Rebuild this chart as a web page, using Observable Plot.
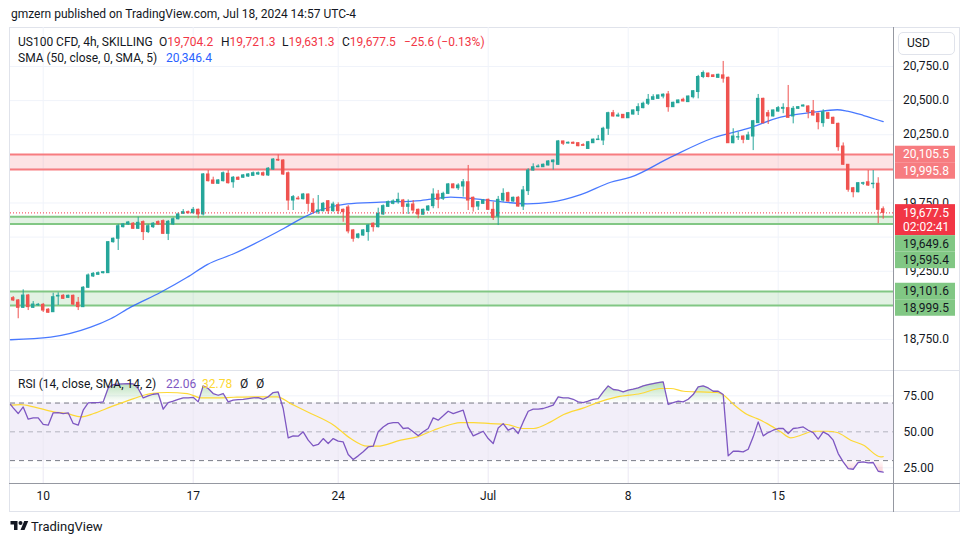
<!DOCTYPE html>
<html><head><meta charset="utf-8">
<script src="https://cdn.jsdelivr.net/npm/d3@7"></script>
<script src="https://cdn.jsdelivr.net/npm/@observablehq/plot@0.6"></script>
<style>
body{margin:0;background:#fff;font-family:Roboto,"Noto Sans",sans-serif;color:#131722;}
#wrap{position:relative;width:970px;height:545px;overflow:hidden;background:#fff;}
.abs{position:absolute;white-space:nowrap;font-size:12px;line-height:16px;}
.ln{position:absolute;}
#wrap svg{position:absolute;left:0;top:0;}
</style></head><body><div id="wrap"></div>
<script>
// ---------------- DATA ----------------
const opens = [19053,19036,18982,19072,18982,19001,19004,18968,18950,19065,19070,19055,19070,19019,18987,19129,19212,19224,19236,19236,19463,19488,19573,19593,19598,19561,19610,19537,19573,19610,19617,19524,19593,19631,19671,19683,19675,19700,19666,19959,19915,19891,19910,19964,19902,19935,19935,19944,19949,19959,19968,19952,19995,20066,20061,19968,19768,19782,19778,19812,19744,19683,19690,19763,19690,19734,19700,19717,19549,19495,19512,19537,19598,19573,19666,19722,19744,19756,19768,19722,19739,19700,19664,19695,19727,19812,19781,19817,19886,19858,19871,19902,19788,19724,19744,19773,19700,19651,19768,19822,19761,19788,19724,19837,19988,20012,20012,20025,20049,20030,20201,20186,20191,20188,20174,20146,20188,20211,20208,20294,20408,20384,20396,20371,20398,20423,20445,20477,20506,20513,20530,20545,20452,20481,20506,20489,20525,20563,20673,20698,20685,20667,20685,20667,20188,20230,20237,20213,20237,20335,20513,20408,20384,20420,20440,20445,20384,20440,20457,20457,20423,20404,20335,20408,20374,20330,20164,20030,19858,19829,19891,19902,19888,19891,19704.2];
const highs = [19065,19043,19114,19080,19028,19014,19014,18977,19089,19092,19080,19076,19076,19058,19138,19230,19241,19245,19248,19468,19494,19593,19600,19615,19607,19646,19619,19593,19607,19619,19626,19622,19640,19677,19702,19691,19717,19706,19966,19988,19939,19922,19977,19988,19944,19941,19959,19966,19977,19977,19977,20010,20076,20103,20068,19977,19805,19798,19820,19816,19781,19805,19754,19768,19756,19751,19706,19731,19556,19527,19556,19593,19604,19712,19736,19765,19773,19822,19776,19773,19768,19706,19706,19731,19854,19842,19829,19893,19891,19891,19922,20025,19794,19761,19776,19779,19756,19798,19854,19829,19794,19798,19871,20001,20037,20030,20036,20061,20065,20208,20203,20197,20197,20193,20184,20201,20219,20245,20305,20415,20428,20408,20398,20413,20431,20477,20489,20545,20543,20541,20550,20567,20489,20505,20518,20534,20574,20685,20717,20702,20688,20694,20787,20673,20294,20269,20241,20269,20355,20545,20518,20428,20431,20457,20477,20611,20457,20457,20469,20462,20501,20408,20433,20413,20379,20335,20190,20032,19864,19900,19902,19988,19988,19935,19721.3];
const lows = [19028,18902,18977,18962,18977,18992,18948,18941,18948,18999,19043,19050,18999,18962,18984,19124,19204,19219,19230,19234,19456,19402,19567,19585,19556,19556,19475,19526,19563,19585,19519,19475,19585,19626,19666,19669,19669,19634,19655,19904,19886,19886,19904,19889,19858,19915,19930,19937,19944,19952,19944,19944,19988,20054,19952,19695,19695,19772,19772,19683,19671,19666,19684,19666,19683,19666,19609,19524,19463,19486,19505,19470,19537,19567,19659,19717,19737,19741,19666,19666,19671,19634,19660,19688,19708,19708,19768,19812,19854,19842,19793,19695,19683,19695,19739,19695,19622,19585,19756,19756,19754,19719,19695,19805,19983,20009,20010,20021,19991,20025,20171,20182,20179,20162,20164,20142,20186,20208,20171,20245,20379,20379,20369,20369,20395,20391,20440,20464,20501,20510,20513,20415,20450,20479,20491,20486,20513,20513,20661,20667,20669,20662,20628,20186,20184,20208,20184,20208,20134,20332,20330,20325,20380,20415,20404,20371,20330,20435,20453,20367,20387,20286,20305,20362,20325,20129,20025,19829,19788,19824,19878,19871,19854,19598,19631.3];
const closes = [19036,18982,19072,18987,19006,19004,18962,18946,19060,19070,19048,19070,19006,18987,19129,19219,19231,19236,19243,19463,19488,19580,19593,19607,19561,19605,19537,19580,19598,19593,19524,19612,19631,19666,19683,19675,19700,19666,19959,19910,19891,19915,19968,19895,19935,19920,19952,19959,19968,19968,19952,20001,20068,20061,19959,19768,19793,19777,19812,19744,19683,19695,19744,19690,19739,19690,19683,19542,19488,19519,19549,19585,19573,19671,19727,19756,19761,19773,19722,19739,19695,19666,19700,19724,19812,19773,19817,19886,19858,19878,19902,19768,19719,19756,19768,19700,19642,19773,19817,19761,19788,19724,19842,19988,20012,20017,20030,20054,20061,20201,20184,20191,20184,20166,20169,20195,20214,20215,20294,20408,20384,20391,20371,20408,20428,20452,20477,20506,20525,20538,20543,20452,20484,20501,20494,20530,20569,20673,20702,20673,20673,20689,20661,20188,20237,20232,20213,20245,20349,20513,20335,20384,20428,20445,20447,20374,20440,20452,20464,20415,20391,20342,20415,20367,20330,20159,20030,19847,19829,19895,19895,19878,19891,19700,19677.5];

// SMA(50): bar position and value
const smaIdx = [-0.54,7.5,15.5,19.5,23.5,29.5,34.8,38.8,44.1,50.8,54.1,57.5,61.5,66.8,73.5,81.5,87.5,90.1,95.5,102.8,107.5,113.5,119.5,123.5,131.5,140.1,146.8,153.5,160.1,164.8,166.8,170.1,174];
const smaVal = [18748,18767,18840,18902,18987,19096,19206,19299,19378,19499,19563,19634,19700,19744,19756,19768,19793,19788,19768,19744,19756,19812,19902,19939,20086,20228,20294,20379,20415,20433,20423,20391,20346.4];

// RSI(14) per bar (plus the value at the left edge)
const rsiLeadIn = 69.0;
const rsiVal = [66.6,62.7,67.3,58.8,59.7,59.7,55.1,54.6,63.2,63.4,62.7,63.2,55.8,54.6,65.0,70.1,70.3,70.3,70.8,80.5,82.8,83.1,83.3,83.5,83.3,80.1,73.6,75.0,76.1,76.6,65.7,70.3,71.3,72.6,73.6,73.6,74.0,70.8,81.9,80.1,76.6,75.4,76.6,70.8,72.0,72.4,72.6,73.1,73.6,73.8,72.6,74.3,77.3,77.7,66.2,45.8,47.2,47.0,50.0,44.2,40.2,41.2,45.3,41.9,45.3,43.5,43.0,34.2,30.8,33.3,36.1,39.5,40.0,50.0,53.4,55.7,56.4,56.4,52.3,52.7,50.0,47.2,50.0,52.3,59.7,58.1,61.1,64.3,62.7,63.9,65.0,53.4,47.2,48.8,50.4,45.3,41.9,52.7,55.7,51.1,52.7,48.8,56.9,64.3,65.7,65.7,66.2,67.3,68.5,74.3,73.6,73.6,72.6,70.8,70.3,71.3,72.6,73.1,77.7,81.9,79.4,78.9,77.7,78.9,79.6,80.5,81.9,82.8,83.5,84.2,84.7,69.0,70.3,71.3,70.8,72.6,75.9,81.2,81.9,80.5,78.2,78.2,75.9,33.3,36.5,36.5,36.1,37.9,46.5,56.9,47.2,49.5,51.1,52.3,52.3,48.8,52.3,52.7,53.4,51.1,49.5,44.9,50.0,48.1,44.2,34.9,29.1,24.5,24.0,28.7,29.1,28.4,28.7,22.6,22.06];

// RSI-based MA (yellow)
const rsiMaIdx = [-0.54,1.5,4.1,8.1,10.8,13.5,16.1,19.5,24.1,27.5,30.8,34.8,37.5,40.8,44.1,48.1,52.8,55.5,58.8,64.1,67.5,70.8,72.8,77.5,80.8,84.1,87.5,89.5,92.1,95.5,98.8,102.1,104.1,107.5,110.1,114.1,116.8,120.8,125.5,129.5,131.5,134.1,137.5,140.8,142.1,144.1,146.8,148.8,150.8,153.5,155.5,157.5,160.1,162.8,164.8,167.5,170.1,173.5,174];
const rsiMaVal = [68.5,68.9,67.3,63.9,62.7,60.4,62.7,67.3,73.1,76.6,77.3,76.6,73.6,73.6,74.0,74.3,74.3,69.6,63.9,54.6,45.3,40.0,40.0,44.2,46.5,51.1,55.1,56.4,56.4,55.7,55.1,52.3,52.3,56.9,62.0,66.6,70.3,74.3,76.6,80.1,80.1,78.2,77.7,77.3,75.4,69.0,62.0,59.2,55.7,50.0,45.8,47.6,50.4,50.4,49.5,44.2,40.7,32.6,32.78];

const weekTickIdx = [6,36,65,95,123,153];
const weekTickLabels = ["10","17","24","Jul","8","15"];
const priceTicks = [18750,19000,19250,19500,19750,20000,20250,20500,20750];
const rsiTicks = [25,50,75];

const resistanceZone = [19995.8, 20105.5];
const supportZone1 = [19595.4, 19649.6];
const supportZone2 = [18999.5, 19101.6];
const lastPrice = 19677.5;
const countdown = "02:02:41";

// ---------------- BUILD ----------------
const GREEN = "#26a69a", RED = "#ef5350";
const candles = opens.map((o, i) => ({i, o, h: highs[i], l: lows[i], c: closes[i], col: closes[i] >= o ? GREEN : RED}));
const sma = smaIdx.map((i, k) => ({i, v: smaVal[k]}));
const rsi = [{i: -0.54, v: rsiLeadIn}, ...rsiVal.map((v, i) => ({i, v}))];
const rsiMa = rsiMaIdx.map((i, k) => ({i, v: rsiMaVal[k]}));
const zones = [
  {lo: resistanceZone[0], hi: resistanceZone[1], fill: "#f23645", op: 0.14, line: "#f77c80"},
  {lo: supportZone1[0], hi: supportZone1[1], fill: "#4caf50", op: 0.16, line: "#81c784"},
  {lo: supportZone2[0], hi: supportZone2[1], fill: "#4caf50", op: 0.16, line: "#81c784"}
];
const zoneLines = zones.flatMap(z => [{v: z.lo, c: z.line}, {v: z.hi, c: z.line}]);
const fmt1 = d3.format(",.1f");
const priceLabels = [
  {price: resistanceZone[1], bg: "#f77c80", fg: "#ffffff"},
  {price: resistanceZone[0], bg: "#f77c80", fg: "#ffffff"},
  {price: lastPrice, bg: "#f23645", fg: "#ffffff", sub: countdown},
  {price: supportZone1[1], bg: "#81c784", fg: "#131722"},
  {price: supportZone1[0], bg: "#81c784", fg: "#131722"},
  {price: supportZone2[1], bg: "#81c784", fg: "#131722"},
  {price: supportZone2[0], bg: "#81c784", fg: "#131722"}
];

const W = 970, H = 545;
const xDomain = [-0.54, 176.06];
const FONT = "Roboto, 'Noto Sans', sans-serif";
const style = {background: "transparent", fontFamily: FONT, fontSize: "12px", color: "#131722", overflow: "visible"};

// price scale: tick labels (hidden where a price label box covers them) + label boxes
function priceScaleMark(index, scales, values, dims) {
  const g = d3.create("svg:g").attr("font-family", FONT).attr("font-size", 12).attr("text-anchor", "start");
  const x0 = dims.width - dims.marginRight + 2, bw = 60, lh = 16.5;
  const items = priceLabels.map(d => ({...d, y: scales.y(d.price)})).sort((a, b) => a.y - b.y);
  let prev = -Infinity;
  for (const it of items) {
    let top = it.y - lh / 2;
    if (top < prev) top = prev;
    it.top = top; it.h = it.sub ? 31 : lh; prev = top + it.h;
  }
  for (const t of priceTicks) {
    const y = scales.y(t);
    if (items.some(it => y >= it.top && y <= it.top + it.h)) continue;
    g.append("text").attr("x", x0 + 8).attr("y", y).attr("dy", "0.35em").attr("fill", "#131722").text(fmt1(t));
  }
  for (const it of items) {
    g.append("rect").attr("x", x0).attr("y", it.top).attr("width", bw).attr("height", it.h).attr("fill", it.bg);
    g.append("text").attr("x", x0 + 8).attr("y", it.top + lh / 2).attr("dy", "0.35em").attr("fill", it.fg).text(fmt1(it.price));
    if (it.sub) g.append("text").attr("x", x0 + 8).attr("y", it.top + lh / 2 + 14.5).attr("dy", "0.35em").attr("fill", it.fg).text(it.sub);
  }
  return g.node();
}

const mainPlot = Plot.plot({
  width: W, height: H, marginTop: 27, marginBottom: 175, marginLeft: 10, marginRight: 77,
  x: {domain: xDomain, axis: null},
  y: {domain: [18522.9, 21035.7], axis: null},
  color: {type: "identity"},
  style,
  marks: [
    Plot.ruleY(priceTicks, {stroke: "#f0f3fa"}),
    Plot.ruleX(weekTickIdx, {stroke: "#f0f3fa"}),
    Plot.rect(zones, {y1: "lo", y2: "hi", fill: "fill", fillOpacity: "op"}),
    Plot.ruleY(zoneLines, {y: "v", stroke: "c", strokeWidth: 2}),
    Plot.line(sma, {x: "i", y: "v", stroke: "#2962ff", strokeWidth: 1.3, strokeOpacity: 0.85, curve: "monotone-x"}),
    Plot.ruleX(candles, {x: "i", y1: "l", y2: "h", stroke: "col", strokeWidth: 1}),
    Plot.rect(candles, {x1: d => d.i - 0.35, x2: d => d.i + 0.35, y1: "o", y2: "c", fill: "col", insetTop: -0.5, insetBottom: -0.5}),
    Plot.ruleY([lastPrice], {stroke: "#f23645", strokeDasharray: "1,2"}),
    priceScaleMark
  ]
});

function gradMark(index, scales) {
  const defs = d3.create("svg:defs");
  const up = defs.append("linearGradient").attr("id", "rsiUpGrad").attr("gradientUnits", "userSpaceOnUse")
    .attr("x1", 0).attr("x2", 0).attr("y1", scales.y(95)).attr("y2", scales.y(70));
  up.append("stop").attr("offset", 0).attr("stop-color", "#4caf50").attr("stop-opacity", 0.7);
  up.append("stop").attr("offset", 1).attr("stop-color", "#4caf50").attr("stop-opacity", 0);
  const dn = defs.append("linearGradient").attr("id", "rsiDnGrad").attr("gradientUnits", "userSpaceOnUse")
    .attr("x1", 0).attr("x2", 0).attr("y1", scales.y(30)).attr("y2", scales.y(5));
  dn.append("stop").attr("offset", 0).attr("stop-color", "#f23645").attr("stop-opacity", 0);
  dn.append("stop").attr("offset", 1).attr("stop-color", "#f23645").attr("stop-opacity", 0.7);
  return defs.node();
}

const rsiPlot = Plot.plot({
  width: W, height: H, marginTop: 370, marginBottom: 62, marginLeft: 10, marginRight: 77,
  x: {domain: xDomain, axis: null},
  y: {domain: [14.1, 92.6], axis: null},
  style,
  marks: [
    gradMark,
    Plot.rect([{lo: 30, hi: 70}], {y1: "lo", y2: "hi", fill: "#7e57c2", fillOpacity: 0.1}),
    Plot.ruleY([25, 75], {stroke: "#f0f3fa"}),
    Plot.ruleX(weekTickIdx, {stroke: "#ebe8f3"}),
    Plot.ruleY([70, 30], {stroke: "#787b86", strokeDasharray: "5,4"}),
    Plot.ruleY([50], {stroke: "#787b86", strokeOpacity: 0.5, strokeDasharray: "5,4"}),
    Plot.areaY(rsi, {x: "i", y1: 70, y2: d => Math.max(70, d.v), fill: "green"}),
    Plot.areaY(rsi, {x: "i", y1: 30, y2: d => Math.min(30, d.v), fill: "red"}),
    Plot.line(rsiMa, {x: "i", y: "v", stroke: "#fdd835", strokeWidth: 1.2, curve: "monotone-x"}),
    Plot.line(rsi, {x: "i", y: "v", stroke: "#7e57c2", strokeWidth: 1.3}),
    Plot.axisY(rsiTicks, {anchor: "right", tickSize: 0, tickPadding: 10, tickFormat: d => d.toFixed(2), label: null}),
    Plot.axisX(weekTickIdx, {anchor: "bottom", tickSize: 0, tickPadding: 8, tickFormat: d => weekTickLabels[weekTickIdx.indexOf(d)], label: null})
  ]
});
const areas = d3.select(rsiPlot).selectAll('g[aria-label="area"]').nodes();
if (areas[0]) d3.select(areas[0]).attr("fill", "url(#rsiUpGrad)").selectAll("path").attr("fill", "url(#rsiUpGrad)");
if (areas[1]) d3.select(areas[1]).attr("fill", "url(#rsiDnGrad)").selectAll("path").attr("fill", "url(#rsiDnGrad)");

// ---------------- PAGE ----------------
const wrap = document.getElementById("wrap");
function line(l, t, w, h, c) { const d = document.createElement("div"); d.className = "ln"; Object.assign(d.style, {left: l + "px", top: t + "px", width: w + "px", height: h + "px", background: c}); wrap.appendChild(d); }
line(9, 27, 951, 1, "#e0e3eb");
line(9, 511, 951, 1, "#e0e3eb");
line(9, 27, 1, 485, "#e0e3eb");
line(959, 27, 1, 485, "#e0e3eb");
line(9, 370, 951, 1, "#e0e3eb");
wrap.appendChild(mainPlot);
wrap.appendChild(rsiPlot);
line(893, 27, 1, 485, "#9598a1");
line(9, 483, 951, 1, "#9598a1");

function txt(html, l, t, extra) { const s = document.createElement("div"); s.className = "abs"; s.style.left = l + "px"; s.style.top = t + "px"; if (extra) Object.assign(s.style, extra); s.innerHTML = html; wrap.appendChild(s); return s; }
txt("gmzern published on TradingView.com, Jul 18, 2024 14:57 UTC-4", 11, 6);
const R = "#f23645";
txt("US100 CFD, 4h, SKILLING", 18, 34);
txt(`O<span style="color:${R}">19,704.2</span>`, 159, 34);
txt(`H<span style="color:${R}">19,721.3</span>`, 221, 34);
txt(`L<span style="color:${R}">19,631.3</span>`, 282, 34);
txt(`C<span style="color:${R}">19,677.5</span>`, 342, 34);
txt(`<span style="color:${R}">−25.6 (−0.13%)</span>`, 404, 34);
txt("SMA (50, close, 0, SMA, 5)", 18, 50);
txt(`<span style="color:#2962ff">20,346.4</span>`, 166, 50);
txt("RSI (14, close, SMA, 14, 2)", 18, 376);
txt(`<span style="color:#7e57c2">22.06</span>`, 166, 376);
txt(`<span style="color:#fdd835">32.78</span>`, 202, 376);
txt("Ø", 240, 376);
txt("Ø", 256, 376);
// USD box
txt("USD", 898, 32, {width: "57px", height: "23px", border: "1px solid #e0e3eb", borderRadius: "5px", boxSizing: "border-box", lineHeight: "21px", paddingLeft: "8px", background: "#fff"});
// footer logo
txt(`<svg width="19" height="14" viewBox="0 0 36 28" style="position:static"><path fill="#131722" d="M14 22H7V11H0V4h14v18z"/><circle fill="#131722" cx="20" cy="8" r="4"/><path fill="#131722" d="M28 22h-8l7.5-18h8L28 22z"/></svg>`, 10, 519);
txt("TradingView", 31, 519, {fontSize: "13px"});
</script></body></html>
